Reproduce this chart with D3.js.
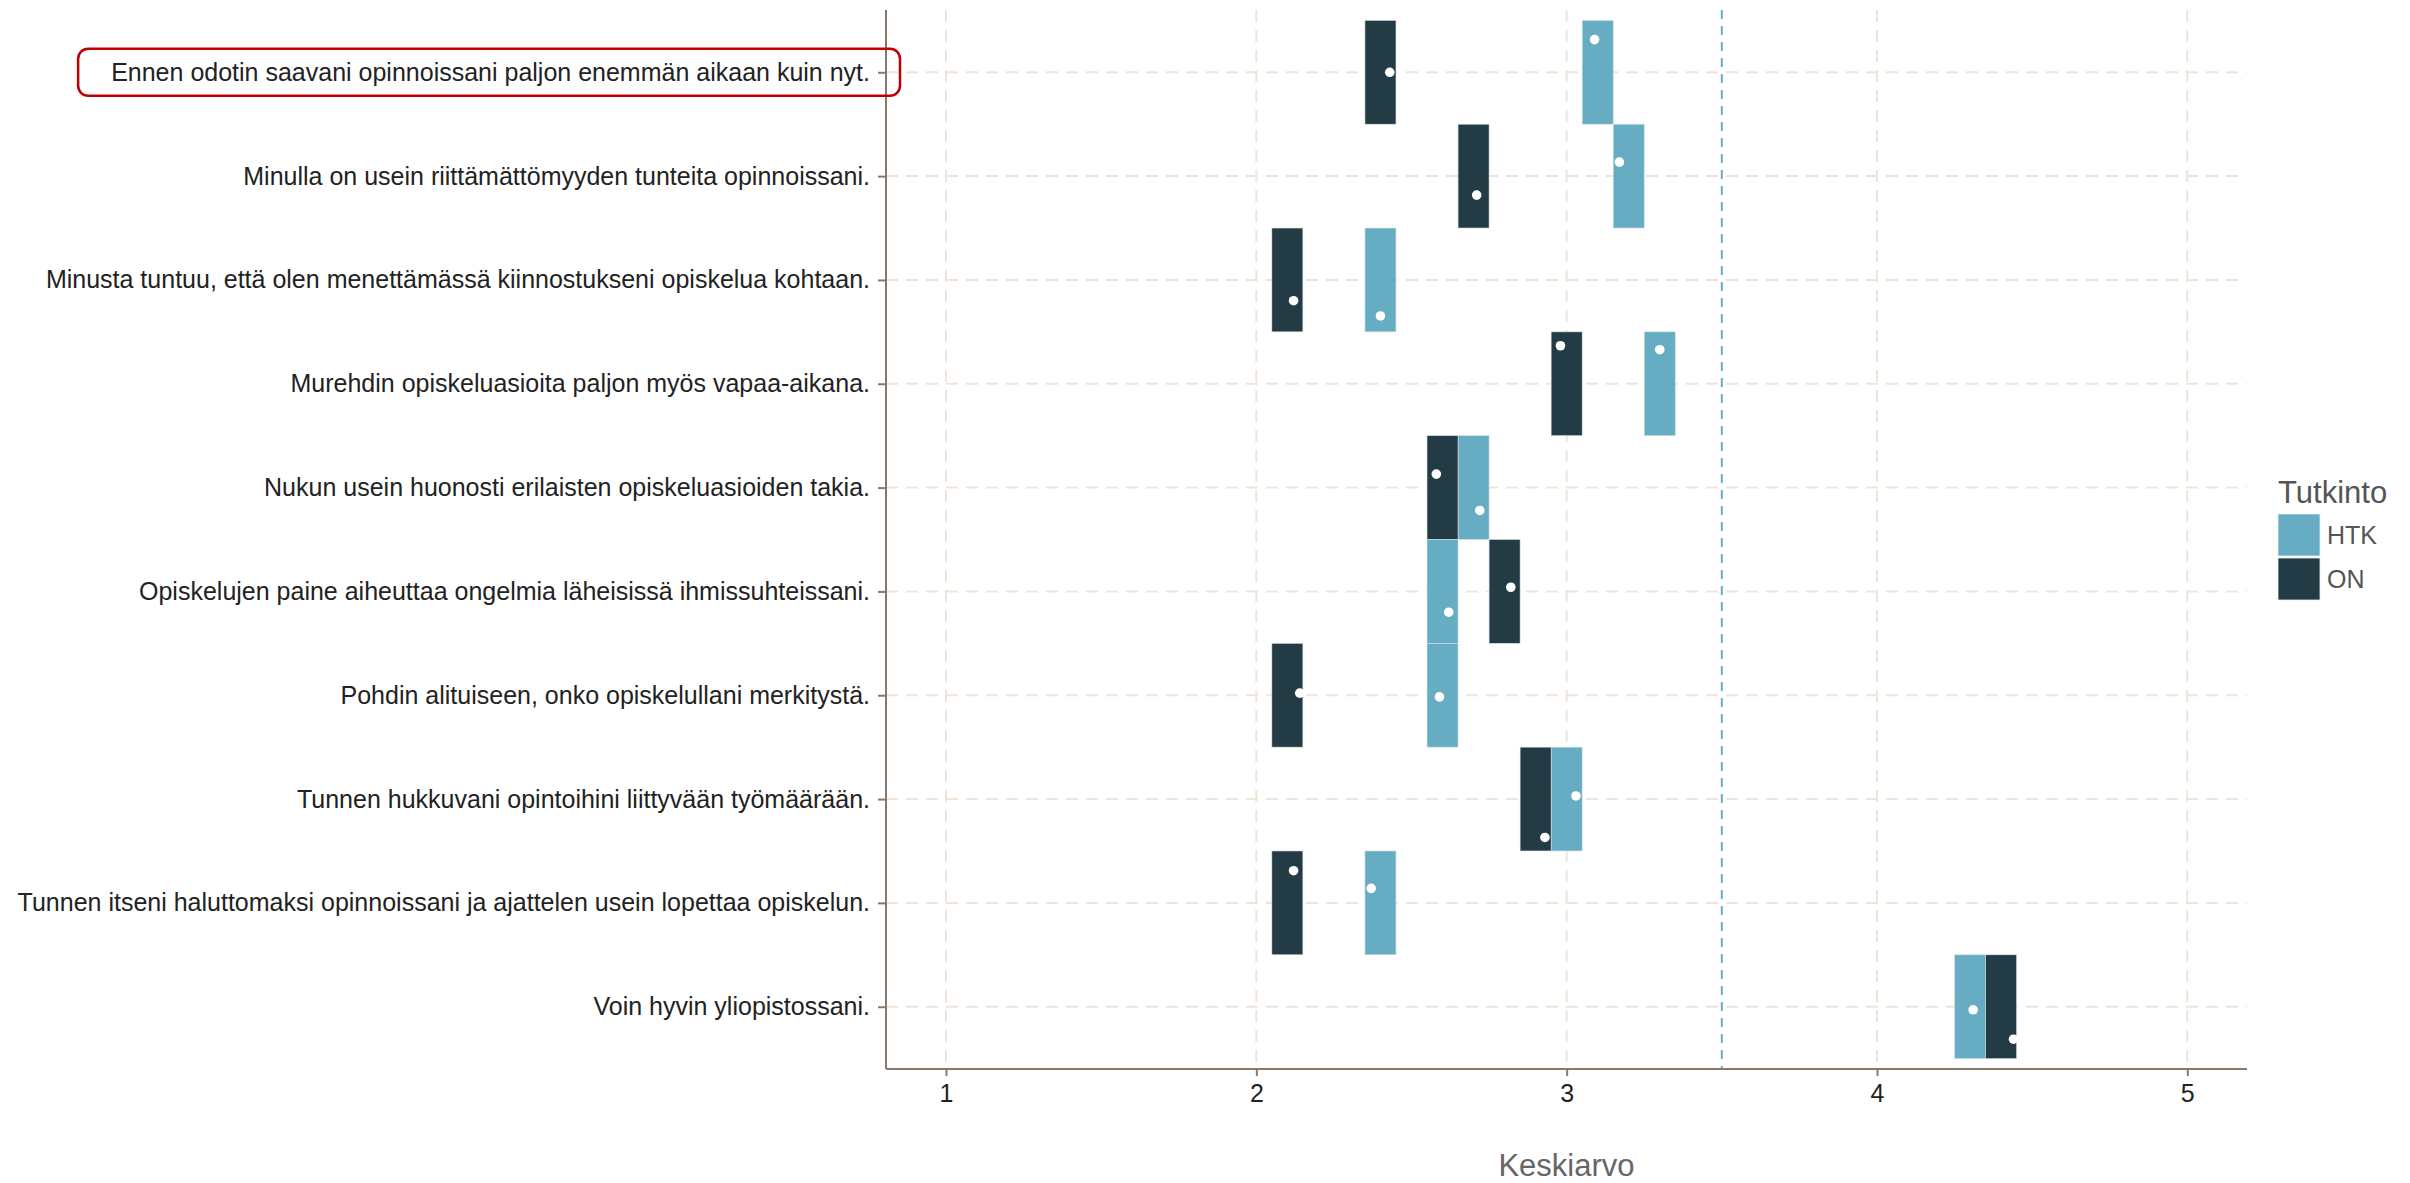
<!DOCTYPE html>
<html>
<head>
<meta charset="utf-8">
<script src="https://cdn.jsdelivr.net/npm/d3@7"></script>
<style>
  html, body { margin: 0; padding: 0; background: #ffffff; }
  svg { display: block; font-family: "Liberation Sans", Arial, sans-serif; }
</style>
</head>
<body>
<svg id="chart" width="2410" height="1183"></svg>
<script>
// ---------------- data ----------------
const categories = [
  "Ennen odotin saavani opinnoissani paljon enemmän aikaan kuin nyt.",
  "Minulla on usein riittämättömyyden tunteita opinnoissani.",
  "Minusta tuntuu, että olen menettämässä kiinnostukseni opiskelua kohtaan.",
  "Murehdin opiskeluasioita paljon myös vapaa-aikana.",
  "Nukun usein huonosti erilaisten opiskeluasioiden takia.",
  "Opiskelujen paine aiheuttaa ongelmia läheisissä ihmissuhteissani.",
  "Pohdin alituiseen, onko opiskelullani merkitystä.",
  "Tunnen hukkuvani opintoihini liittyvään työmäärään.",
  "Tunnen itseni haluttomaksi opinnoissani ja ajattelen usein lopettaa opiskelun.",
  "Voin hyvin yliopistossani."
];
const groups = ["HTK", "ON"];
// mean values (white points)
const meanHTK = [3.09, 3.17, 2.40, 3.30, 2.72, 2.62, 2.59, 3.03, 2.37, 4.31];
const meanON  = [2.43, 2.71, 2.12, 2.98, 2.58, 2.82, 2.14, 2.93, 2.12, 4.44];
// tile positions (rounded means)
const tileHTK = [3.1, 3.2, 2.4, 3.3, 2.7, 2.6, 2.6, 3.0, 2.4, 4.3];
const tileON  = [2.4, 2.7, 2.1, 3.0, 2.6, 2.8, 2.1, 2.9, 2.1, 4.4];
// vertical jitter of the points, in category units (downwards)
const jitterHTK = [-0.315, -0.135, 0.347, -0.328, 0.22, 0.20, 0.016, -0.03, -0.14, 0.03];
const jitterON  = [0.0, 0.183, 0.20, -0.366, -0.13, -0.04, -0.02, 0.37, -0.31, 0.313];
const xTicks = [1, 2, 3, 4, 5];
const referenceValue = 3.5;
const tileWidth = 0.1;
const xTitle = "Keskiarvo";
const legendTitle = "Tutkinto";
const highlighted = categories[0];

// ---------------- styles ----------------
const colors = { HTK: "#66adc4", ON: "#233b44" };
const axisColor = "#8b7866";
const gridColor = "#f0e3d8";
const panel = { left: 886, right: 2247, top: 10, bottom: 1069 };

const svg = d3.select("#chart");

const x = d3.scaleLinear().domain([0.8066, 5.1924]).range([panel.left, panel.right]);
const y = d3.scalePoint().domain(categories).range([panel.top, panel.bottom]).padding(0.6);
const step = y.step();

const rows = [];
categories.forEach((c, i) => {
  rows.push({ cat: c, group: "HTK", mean: meanHTK[i], tile: tileHTK[i], jit: jitterHTK[i] });
  rows.push({ cat: c, group: "ON", mean: meanON[i], tile: tileON[i], jit: jitterON[i] });
});

// grid
const grid = svg.append("g");
grid.selectAll("line.v").data(xTicks).join("line")
  .attr("x1", d => x(d)).attr("x2", d => x(d))
  .attr("y1", panel.top).attr("y2", panel.bottom)
  .attr("stroke", gridColor).attr("stroke-width", 2).attr("stroke-dasharray", "12,8");
grid.selectAll("line.h").data(categories).join("line")
  .attr("x1", panel.left).attr("x2", panel.right)
  .attr("y1", d => y(d)).attr("y2", d => y(d))
  .attr("stroke", gridColor).attr("stroke-width", 2).attr("stroke-dasharray", "12,8");

// reference line
svg.append("line")
  .attr("x1", x(referenceValue)).attr("x2", x(referenceValue))
  .attr("y1", panel.top).attr("y2", panel.bottom)
  .attr("stroke", "#66adc4").attr("stroke-width", 2).attr("stroke-dasharray", "9,7");

// tiles
svg.append("g").selectAll("rect").data(rows).join("rect")
  .attr("x", d => x(d.tile - tileWidth / 2))
  .attr("width", d => x(d.tile + tileWidth / 2) - x(d.tile - tileWidth / 2))
  .attr("y", d => y(d.cat) - step / 2)
  .attr("height", step)
  .attr("fill", d => colors[d.group])
  .attr("stroke", "#d8e2e6").attr("stroke-width", 0.6);

// points
svg.append("g").selectAll("circle").data(rows).join("circle")
  .attr("cx", d => x(d.mean))
  .attr("cy", d => y(d.cat) + d.jit * step)
  .attr("r", 4.8)
  .attr("fill", "#ffffff");

// axes
const xAxis = svg.append("g").attr("transform", `translate(0,${panel.bottom})`)
  .call(d3.axisBottom(x).tickValues(xTicks).tickFormat(d3.format("d")).tickSizeOuter(0).tickSize(7).tickPadding(8));
xAxis.select(".domain").remove();
xAxis.selectAll(".tick line").attr("stroke", axisColor).attr("stroke-width", 2);
xAxis.selectAll(".tick text").attr("font-size", 25).attr("fill", "#222").attr("font-family", "Liberation Sans, Arial, sans-serif");

const yAxis = svg.append("g").attr("transform", `translate(${panel.left},0)`)
  .call(d3.axisLeft(y).tickSizeOuter(0).tickSize(8).tickPadding(8));
yAxis.select(".domain").remove();
yAxis.selectAll(".tick line").attr("stroke", axisColor).attr("stroke-width", 2);
yAxis.selectAll(".tick text").attr("font-size", 25).attr("fill", "#222").attr("font-family", "Liberation Sans, Arial, sans-serif");

// axis lines
svg.append("line").attr("x1", panel.left).attr("x2", panel.left)
  .attr("y1", panel.top).attr("y2", panel.bottom)
  .attr("stroke", axisColor).attr("stroke-width", 2);
svg.append("line").attr("x1", panel.left).attr("x2", panel.right)
  .attr("y1", panel.bottom).attr("y2", panel.bottom)
  .attr("stroke", axisColor).attr("stroke-width", 2);

// x title
svg.append("text")
  .attr("x", (panel.left + panel.right) / 2).attr("y", 1176)
  .attr("text-anchor", "middle").attr("font-size", 31).attr("fill", "#666")
  .text(xTitle);

// highlight box around first label
const hl = yAxis.selectAll(".tick").filter(d => d === highlighted).select("text").node();
const bb = hl.getBBox();
svg.append("rect")
  .attr("x", panel.left + bb.x - 33)
  .attr("y", y(highlighted) - 23.5)
  .attr("width", -bb.x + 33 + 14)
  .attr("height", 47)
  .attr("rx", 10).attr("ry", 10)
  .attr("fill", "none").attr("stroke", "#c00000").attr("stroke-width", 2.5);

// legend
const lg = svg.append("g").attr("transform", "translate(2278,0)");
lg.append("text").attr("x", 0).attr("y", 503).attr("font-size", 31).attr("fill", "#555").text(legendTitle);
const keySize = 42, keyTop = 514, keyGap = 2;
const items = lg.selectAll("g.item").data(groups).join("g")
  .attr("transform", (d, i) => `translate(0,${keyTop + i * (keySize + keyGap)})`);
items.append("rect").attr("width", keySize).attr("height", keySize)
  .attr("fill", d => colors[d]).attr("stroke", "#e8eef0").attr("stroke-width", 0.8);
items.append("text").attr("x", keySize + 7).attr("y", keySize / 2 + 9)
  .attr("font-size", 25).attr("fill", "#555").text(d => d);
</script>
</body>
</html>
